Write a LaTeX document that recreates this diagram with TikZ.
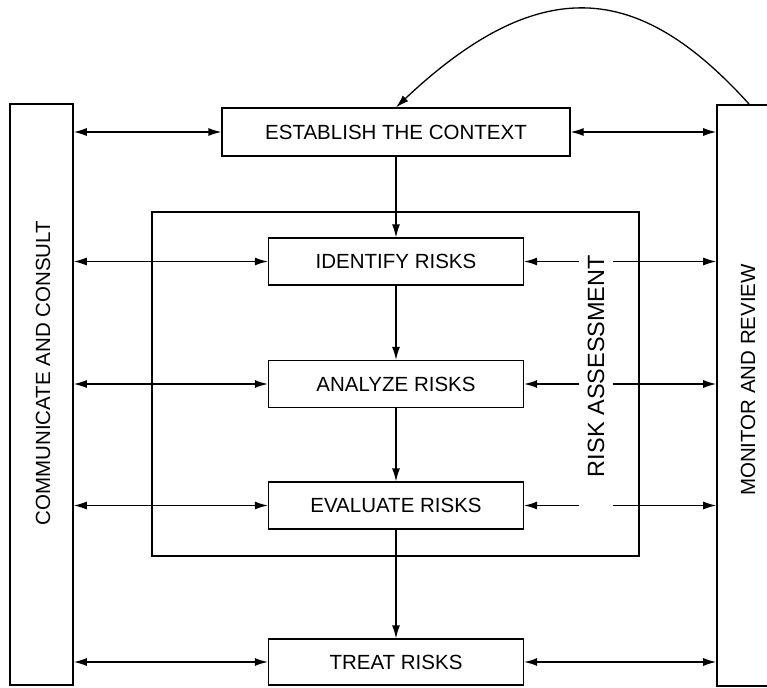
\documentclass[tikz,border=0pt]{standalone}
\usepackage{fontspec}
\newfontfamily\diagfont{Liberation Sans}
\usetikzlibrary{arrows.meta}
\newcommand{\lbl}{\diagfont\fontsize{20.5}{24}\selectfont}
\tikzset{
  stagebox/.style={draw, line width=1.3pt, inner sep=0pt, minimum width=255pt, minimum height=47pt, font=\lbl},
  sidebar/.style={draw, line width=1.6pt, inner sep=0pt, minimum width=63pt, minimum height=581pt},
  sidelabel/.style={rotate=90, font=\lbl},
  flow/.style={line width=1.3pt, -{Latex[length=13pt,width=8pt]}},
  both/.style={line width=1.3pt, {Latex[length=13pt,width=8pt]}-{Latex[length=13pt,width=8pt]}},
}
\begin{document}
\begin{tikzpicture}[x=1pt,y=-1pt]
   \useasboundingbox (0,0) rectangle (767,687);
   \clip (0,0) rectangle (767,687);
   \node [sidebar] (com) at (41.5,394.5) {};
   \node [sidebar, minimum width=60pt] (mon) at (747,395.5) {};
   \node [sidelabel] (comtext) at (43,373) {COMMUNICATE AND CONSULT};
   \node [sidelabel] (montext) at (748,380) {MONITOR AND REVIEW};
   \node [draw, line width=1.3pt, minimum width=487pt, minimum height=344pt] (assess) at (395.5,384) {};
   \node [sidelabel, font=\diagfont\fontsize{23.5}{26}\selectfont, inner ysep=8pt] (ra) at (596,366) {RISK ASSESSMENT};
   \node [stagebox, minimum width=348pt, minimum height=48pt] (est) at (396,132) {ESTABLISH THE CONTEXT};
   \node [stagebox] (ident) at (396,261.5) {IDENTIFY RISKS};
   \node [stagebox] (anal) at (396,384) {ANALYZE RISKS};
   \node [stagebox] (eval) at (396,505.5) {EVALUATE RISKS};
   \node [stagebox, minimum height=46pt] (treat) at (396,662) {TREAT RISKS};
   \draw [flow] (est) -- (ident);
   \draw [flow] (ident) -- (anal);
   \draw [flow] (anal) -- (eval);
   \draw [flow] (eval) -- (treat);
   \draw [both] (com.east |- est.west) -- (est.west);
   \draw [both] (com.east |- ident.west) -- (ident.west);
   \draw [both] (com.east |- anal.west) -- (anal.west);
   \draw [both] (com.east |- eval.west) -- (eval.west);
   \draw [both] (com.east |- treat.west) -- (treat.west);
   \draw [both] (est.east) -- (mon.west |- est.east);
   \draw [both] (treat.east) -- (mon.west |- treat.east);
   \draw [flow] (ident.east -| ra.north) -- (ident.east);
   \draw [flow] (ra.south |- ident.east) -- (mon.west |- ident.east);
   \draw [flow] (anal.east -| ra.north) -- (anal.east);
   \draw [flow] (ra.south |- anal.east) -- (mon.west |- anal.east);
   \draw [flow] (eval.east -| ra.north) -- (eval.east);
   \draw [flow] (ra.south |- eval.east) -- (mon.west |- eval.east);
   \coordinate (loopstart) at ([xshift=33pt]mon.north west);
   \draw [flow] (loopstart) .. controls (644,-12) and (546,-34) .. (est.north);
\end{tikzpicture}
\end{document}
